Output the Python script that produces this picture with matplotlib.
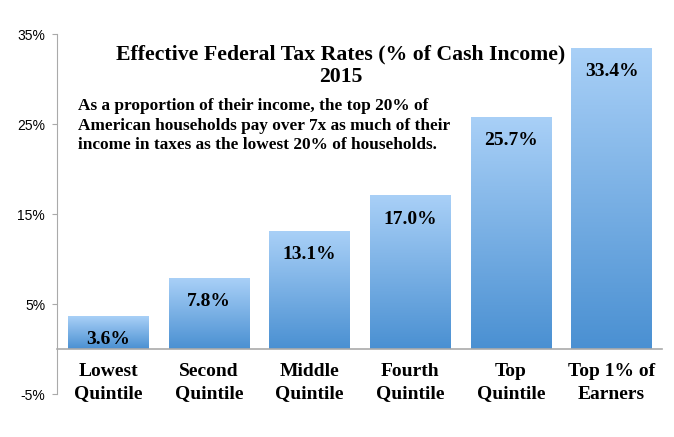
import numpy as np
import matplotlib.pyplot as plt
from matplotlib.colors import LinearSegmentedColormap

# data
groups = ["Lowest\nQuintile", "Second\nQuintile", "Middle\nQuintile",
          "Fourth\nQuintile", "Top\nQuintile", "Top 1% of\nEarners"]
rates = [3.6, 7.8, 13.1, 17.0, 25.7, 33.4]
yticks = [-5, 5, 15, 25, 35]

title = "Effective Federal Tax Rates (% of Cash Income)\n2015"
note = ("As a proportion of their income, the top 20% of\n"
        "American households pay over 7x as much of their\n"
        "income in taxes as the lowest 20% of households.")

serif = "Liberation Serif"
grad = LinearSegmentedColormap.from_list("g", ["#4a90d2", "#a9d0f7"])

fig = plt.figure(figsize=(6.74, 4.37), dpi=100)
ax = fig.add_axes([0.0846, 0.098, 0.8976, 0.824])

x = np.arange(len(rates))
bars = ax.bar(x, rates, width=0.8, color="none", edgecolor="none", zorder=2)

# gradient fill inside each bar
g = np.linspace(0, 1, 256).reshape(-1, 1)
for b in bars:
    x0, y0 = b.get_x(), b.get_y()
    ax.imshow(g, cmap=grad, origin="lower", aspect="auto", zorder=2,
              extent=[x0, x0 + b.get_width(), y0, y0 + b.get_height()])

for xi, v in zip(x, rates):
    ax.annotate(f"{v:.1f}%", (xi, v), xytext=(0, -16.5), textcoords="offset points",
                ha="center", va="center", fontsize=14, fontweight="bold",
                family=serif, zorder=3)

ax.set_xlim(-0.51, 5.5)
ax.set_ylim(-5, 35)

for s in ["top", "right"]:
    ax.spines[s].set_visible(False)
ax.spines["bottom"].set_position(("data", 0))
ax.spines["bottom"].set_color("#aaaaaa")
ax.spines["bottom"].set_linewidth(1.2)
ax.spines["left"].set_color("#aaaaaa")
ax.spines["left"].set_zorder(1)

# ticks after moving the spine (set_position resets them)
ax.set_yticks(yticks)
ax.set_yticklabels([f"{t}%" for t in yticks], family="Liberation Sans", fontsize=10)
ax.tick_params(axis="y", length=3.5, color="#aaaaaa", pad=5)

ax.set_xticks(x)
ax.set_xticklabels(groups, family=serif, fontweight="bold", fontsize=14, linespacing=1.42)
ax.tick_params(axis="x", length=0, pad=10)

fig.text(0.505, 0.850, title, ha="center", va="center", family=serif,
         fontweight="bold", fontsize=15.7, linespacing=1.2)
fig.text(0.116, 0.712, note, ha="left", va="center", family=serif,
         fontweight="bold", fontsize=12.4, linespacing=1.3)

fig.savefig("out.png", dpi=100)
